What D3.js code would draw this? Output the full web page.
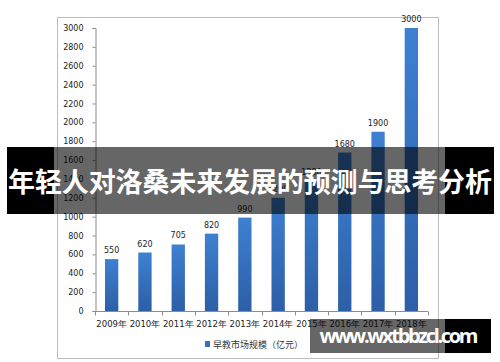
<!DOCTYPE html>
<html>
<head>
<meta charset="utf-8">
<script src="https://cdn.jsdelivr.net/npm/d3@7"></script>
<style>
body { margin: 0; background: #fff; }
svg { display: block; }
</style>
</head>
<body>
<div id="viz"></div>
<script>
// chart data
var years  = ["2009年","2010年","2011年","2012年","2013年","2014年","2015年","2016年","2017年","2018年"];
var values = [550, 620, 705, 820, 990, 1200, 1380, 1680, 1900, 3000];
var yTicks = [0,200,400,600,800,1000,1200,1400,1600,1800,2000,2200,2400,2600,2800,3000];
var legendLabel = "早教市场规模（亿元）";
var bannerText  = "年轻人对洛桑未来发展的预测与思考分析";
var markText    = "www.wxtbbzcl.com";

var width  = 500;
var height = 362;
var font   = "'DejaVu Sans', Verdana, sans-serif";
var cjk    = "'Noto Sans CJK SC', sans-serif";

var svg = d3.select("#viz").append("svg")
	.attr("width", width)
	.attr("height", height);

var defs = svg.append("defs");
var grad = defs.append("linearGradient")
	.attr("id","bargrad")
	.attr("x1",0).attr("y1",0).attr("x2",0).attr("y2",1);
grad.append("stop").attr("offset","0%").attr("stop-color","#3e80d2");
grad.append("stop").attr("offset","100%").attr("stop-color","#2c5fa6");

// chart frame
svg.append("rect")
	.attr("x",57.5).attr("y",17.5)
	.attr("width",381).attr("height",341)
	.attr("fill","#fff")
	.attr("stroke","#bdbdbd");

var x = d3.scaleBand().domain(years).range([95, 428]).paddingInner(0.6).paddingOuter(0.3);
var y = d3.scaleLinear().domain([0, 3000]).range([311, 28]);

// y axis
var yAxis = svg.append("g")
	.attr("transform","translate(95.5,0)")
	.call(d3.axisLeft(y).tickValues(yTicks).tickFormat(d3.format("d")).tickSize(3).tickPadding(9));
yAxis.select(".domain").attr("stroke","#8c8c8c");
yAxis.selectAll(".tick line").attr("stroke","#8c8c8c");
yAxis.selectAll("text").attr("font-family",font).attr("font-size","8px").attr("fill","#222");

// x axis with ticks on band edges
var xg = svg.append("g").attr("transform","translate(0,311.5)");
xg.append("line").attr("x1",95).attr("x2",428).attr("stroke","#8c8c8c");
var edges = d3.range(years.length + 1).map(function(i){ return 95 + i * (333 / years.length); });
xg.selectAll("line.edge").data(edges).enter().append("line")
	.attr("class","edge")
	.attr("x1",function(d){ return Math.round(d)+0.5; })
	.attr("x2",function(d){ return Math.round(d)+0.5; })
	.attr("y1",0).attr("y2",4)
	.attr("stroke","#8c8c8c");
xg.selectAll("text").data(years).enter().append("text")
	.attr("x",function(d){ return x(d) + x.bandwidth()/2; })
	.attr("y",15)
	.attr("text-anchor","middle")
	.attr("font-family",font)
	.attr("font-size","8.5px")
	.attr("fill","#222")
	.text(function(d){ return d; });

// bars
svg.selectAll("rect.bar").data(values).enter().append("rect")
	.attr("class","bar")
	.attr("x",function(d,i){ return x(years[i]); })
	.attr("y",function(d){ return y(d); })
	.attr("width",x.bandwidth())
	.attr("height",function(d){ return 311 - y(d); })
	.attr("fill","url(#bargrad)");

svg.selectAll("text.val").data(values).enter().append("text")
	.attr("class","val")
	.attr("x",function(d,i){ return x(years[i]) + x.bandwidth()/2; })
	.attr("y",function(d){ return y(d) - 6; })
	.attr("text-anchor","middle")
	.attr("font-family",font)
	.attr("font-size","8px")
	.attr("fill","#222")
	.text(function(d){ return d; });

// legend
svg.append("rect").attr("x",205).attr("y",341).attr("width",5).attr("height",6).attr("fill","#3670bd");
svg.append("text")
	.attr("x",213).attr("y",347.5)
	.attr("font-family",cjk)
	.attr("font-size","9px")
	.attr("fill","#333")
	.text(legendLabel);

// title banner overlay
svg.append("rect").attr("x",7).attr("y",147).attr("width",47).attr("height",67).attr("fill","#000");
svg.append("rect").attr("x",445).attr("y",147).attr("width",49).attr("height",67).attr("fill","#000");
svg.append("rect").attr("x",54).attr("y",147).attr("width",391).attr("height",67).attr("fill","rgba(0,0,0,0.6)");
svg.append("text")
	.attr("x",250).attr("y",192)
	.attr("text-anchor","middle")
	.attr("font-family",cjk)
	.attr("font-weight","bold")
	.attr("font-size","27px")
	.attr("fill","#fff")
	.attr("textLength",484)
	.text(bannerText);

// watermark
svg.append("rect").attr("x",310).attr("y",319).attr("width",135).attr("height",34).attr("fill","rgba(0,0,0,0.6)");
svg.append("rect").attr("x",445).attr("y",319).attr("width",46).attr("height",34).attr("fill","#000");
svg.append("text")
	.attr("x",399).attr("y",343)
	.attr("text-anchor","middle")
	.attr("font-family","'Open Sans', 'DejaVu Sans', sans-serif")
	.attr("font-weight","bold")
	.attr("font-size","20px")
	.attr("fill","#fff")
	.attr("textLength",159)
	.text(markText);
</script>
</body>
</html>
